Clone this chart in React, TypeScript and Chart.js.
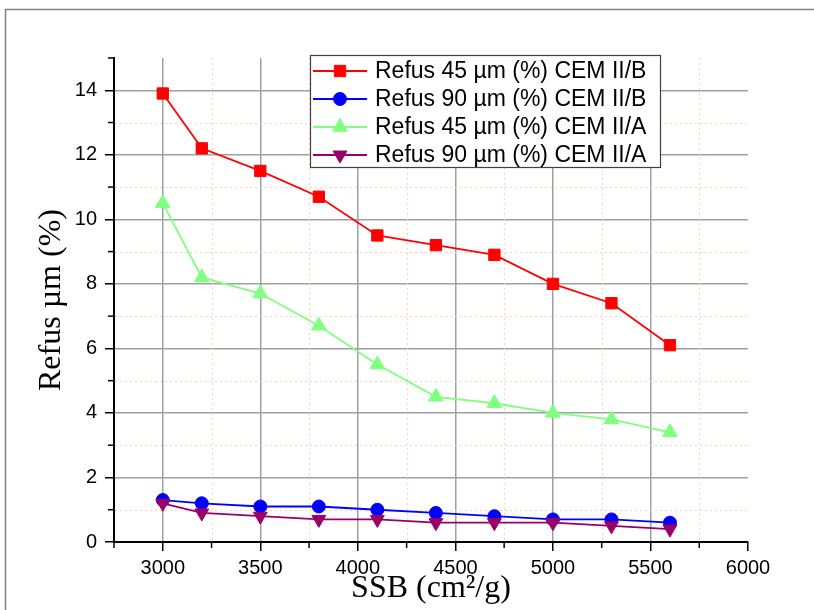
import React, { useEffect, useRef } from 'react';
import { Chart, registerables } from 'chart.js';
import { drawPoint } from 'chart.js/helpers';

Chart.register(...registerables);

// ---- data ----
const ssb = [3000, 3200, 3500, 3800, 4100, 4400, 4700, 5000, 5300, 5600];
const refus45B = [13.9, 12.2, 11.5, 10.7, 9.5, 9.2, 8.9, 8.0, 7.4, 6.1];
const refus90B = [1.3, 1.2, 1.1, 1.1, 1.0, 0.9, 0.8, 0.7, 0.7, 0.6];
const refus45A = [10.5, 8.2, 7.7, 6.7, 5.5, 4.5, 4.3, 4.0, 3.8, 3.4];
const refus90A = [1.2, 0.9, 0.8, 0.7, 0.7, 0.6, 0.6, 0.6, 0.5, 0.4];

const seriesLabels = [
  'Refus 45 µm (%) CEM II/B',
  'Refus 90 µm (%) CEM II/B',
  'Refus 45 µm (%) CEM II/A',
  'Refus 90 µm (%) CEM II/A',
];

const xMin = 2750;
const xMax = 6000;
const xStep = 500;
const xSubStep = 250;
const yMin = 0;
const yMax = 15;
const yStep = 2;
const ySubStep = 1;
const xMinorTicks = [2750, 3250, 3750, 4250, 4750, 5250, 5750];
const yMinorTicks = [1, 3, 5, 7, 9, 11, 13, 15];

const xTitle = 'SSB (cm²/g)';
const yTitle = 'Refus µm (%)';

const toPoints = (vals: number[]) => vals.map((v, i) => ({ x: ssb[i], y: v }));

const TICK_FONT = { family: '"Liberation Sans", Arial, sans-serif', size: 20 };
const TITLE_FONT = { family: '"Liberation Serif", "Times New Roman", serif', size: 32 };

export default function App() {
  const ref = useRef<HTMLCanvasElement>(null);

  useEffect(() => {
    const canvas = ref.current;
    if (!canvas) return;

    const framePlugin = {
      id: 'frame',
      beforeDraw(chart: any) {
        const c = chart.ctx;
        c.save();
        c.strokeStyle = '#808080';
        c.lineWidth = 1.5;
        c.beginPath();
        c.moveTo(5.5, 610);
        c.lineTo(5.5, 9.5);
        c.lineTo(814, 9.5);
        c.stroke();
        c.restore();
      },
    };

    const minorPlugin = {
      id: 'minorGrid',
      beforeDatasetsDraw(chart: any) {
        const { ctx, chartArea: a } = chart;
        const xs = chart.scales.x;
        const ys = chart.scales.y;
        ctx.save();
        ctx.setLineDash([2, 3]);
        ctx.strokeStyle = '#ffd2b0';
        ctx.lineWidth = 1;
        for (const v of yMinorTicks) {
          const py = Math.round(ys.getPixelForValue(v)) + 0.5;
          if (py > a.top + 2 && py < a.bottom - 2) {
            ctx.beginPath();
            ctx.moveTo(a.left + 1, py);
            ctx.lineTo(a.right, py);
            ctx.stroke();
          }
        }
        for (const v of xMinorTicks) {
          const px = Math.round(xs.getPixelForValue(v)) + 0.5;
          if (px > a.left + 2 && px < a.right - 2) {
            ctx.beginPath();
            ctx.moveTo(px, a.top);
            ctx.lineTo(px, a.bottom - 1);
            ctx.stroke();
          }
        }
        ctx.setLineDash([]);
        ctx.strokeStyle = '#000';
        ctx.lineWidth = 1.5;
        for (const v of yMinorTicks) {
          const py = ys.getPixelForValue(v);
          ctx.beginPath();
          ctx.moveTo(a.left - 1, py);
          ctx.lineTo(a.left - 6, py);
          ctx.stroke();
        }
        for (const v of xMinorTicks) {
          const px = xs.getPixelForValue(v);
          ctx.beginPath();
          ctx.moveTo(px, a.bottom + 1);
          ctx.lineTo(px, a.bottom + 6);
          ctx.stroke();
        }
        ctx.restore();
      },
    };

    const legendPlugin = {
      id: 'boxLegend',
      afterDraw(chart: any) {
        const ctx = chart.ctx;
        const L = 310, T = 55, W = 350, H = 112;
        ctx.save();
        ctx.fillStyle = '#ffffff';
        ctx.fillRect(L, T, W, H);
        ctx.strokeStyle = '#404040';
        ctx.lineWidth = 1.2;
        ctx.strokeRect(L + 0.5, T + 0.5, W, H);
        chart.data.datasets.forEach((ds: any, i: number) => {
          const cy = T + 16 + i * 28;
          ctx.strokeStyle = ds.borderColor;
          ctx.lineWidth = 2;
          ctx.beginPath();
          ctx.moveTo(313, cy);
          ctx.lineTo(367, cy);
          ctx.stroke();
          ctx.fillStyle = ds.backgroundColor;
          ctx.strokeStyle = ds.borderColor;
          ctx.lineWidth = 1;
          drawPoint(
            ctx,
            {
              pointStyle: ds.pointStyle,
              rotation: ds.pointRotation || 0,
              radius: ds.pointRadius,
              borderWidth: 1,
            } as any,
            340,
            cy
          );
          ctx.fillStyle = '#000';
          ctx.font = '23px "Liberation Sans", Arial, sans-serif';
          ctx.textAlign = 'left';
          ctx.textBaseline = 'middle';
          ctx.fillText(ds.label, 375, cy + 1);
        });
        ctx.restore();
      },
    };

    const chart = new Chart(canvas, {
      type: 'line',
      data: {
        datasets: [
          {
            label: seriesLabels[0],
            data: toPoints(refus45B),
            borderColor: '#ff0000',
            backgroundColor: '#ff0000',
            borderWidth: 1.8,
            pointStyle: 'rect',
            pointRadius: 8,
            pointBorderWidth: 1,
            order: 3,
          },
          {
            label: seriesLabels[1],
            data: toPoints(refus90B),
            borderColor: '#0000ff',
            backgroundColor: '#0000ff',
            borderWidth: 1.8,
            pointStyle: 'circle',
            pointRadius: 6.5,
            pointBorderWidth: 1,
            order: 2,
          },
          {
            label: seriesLabels[2],
            data: toPoints(refus45A),
            borderColor: '#80ff80',
            backgroundColor: '#80ff80',
            borderWidth: 1.8,
            pointStyle: 'triangle',
            pointRadius: 8.5,
            pointBorderWidth: 1,
            order: 1,
          },
          {
            label: seriesLabels[3],
            data: toPoints(refus90A),
            borderColor: '#990066',
            backgroundColor: '#990066',
            borderWidth: 1.8,
            pointStyle: 'triangle',
            pointRotation: 180,
            pointRadius: 8,
            pointBorderWidth: 1,
            order: 0,
          },
        ] as any,
      },
      options: {
        animation: false,
        responsive: false,
        devicePixelRatio: 1,
        layout: { padding: { top: 58, right: 66, left: 0, bottom: 0 } },
        plugins: {
          legend: { display: false },
          tooltip: { enabled: false },
        },
        elements: { line: { tension: 0 } },
        scales: {
          x: {
            type: 'linear',
            min: xMin,
            max: xMax,
            afterBuildTicks: (s: any) => {
              s.ticks = s.ticks.filter((t: any) => t.value % xStep === 0);
            },
            afterFit: (s: any) => {
              s.height = 68;
            },
            ticks: {
              stepSize: xSubStep,
              autoSkip: false,
              maxRotation: 0,
              padding: 5,
              color: '#000',
              font: TICK_FONT,
              callback: (v: any) => String(v),
            },
            grid: {
              color: (c: any) =>
                c.tick && (c.tick.value === xMax || c.tick.value === xMin) ? 'rgba(0,0,0,0)' : '#a0a0a0',
              lineWidth: 1.5,
              tickLength: 9,
              tickColor: '#000',
              tickWidth: 1.5,
            },
            border: { display: true, color: '#000', width: 2 },
            title: {
              display: true,
              text: xTitle,
              color: '#000',
              font: TITLE_FONT,
              padding: { top: 0, bottom: 2 },
            },
          },
          y: {
            type: 'linear',
            min: yMin,
            max: yMax,
            afterBuildTicks: (s: any) => {
              s.ticks = s.ticks.filter((t: any) => t.value % yStep === 0);
            },
            afterFit: (s: any) => {
              s.width = 114;
            },
            ticks: {
              stepSize: ySubStep,
              autoSkip: false,
              padding: 8,
              color: '#000',
              font: TICK_FONT,
              callback: (v: any) => String(v),
            },
            grid: {
              color: (c: any) =>
                c.tick && (c.tick.value === yMin || c.tick.value === yMax) ? 'rgba(0,0,0,0)' : '#a0a0a0',
              lineWidth: 1.5,
              tickLength: 9,
              tickColor: '#000',
              tickWidth: 1.5,
            },
            border: { display: true, color: '#000', width: 2 },
            title: {
              display: true,
              text: yTitle,
              color: '#000',
              font: TITLE_FONT,
              padding: { top: 32, bottom: 0 },
            },
          },
        },
      } as any,
      plugins: [framePlugin, minorPlugin, legendPlugin],
    });

    return () => chart.destroy();
  }, []);

  return (
    <div style={{ position: 'fixed', left: 0, top: 0, width: 814, height: 610, background: '#fff' }}>
      <canvas ref={ref} width={814} height={610} style={{ display: 'block' }} />
    </div>
  );
}
